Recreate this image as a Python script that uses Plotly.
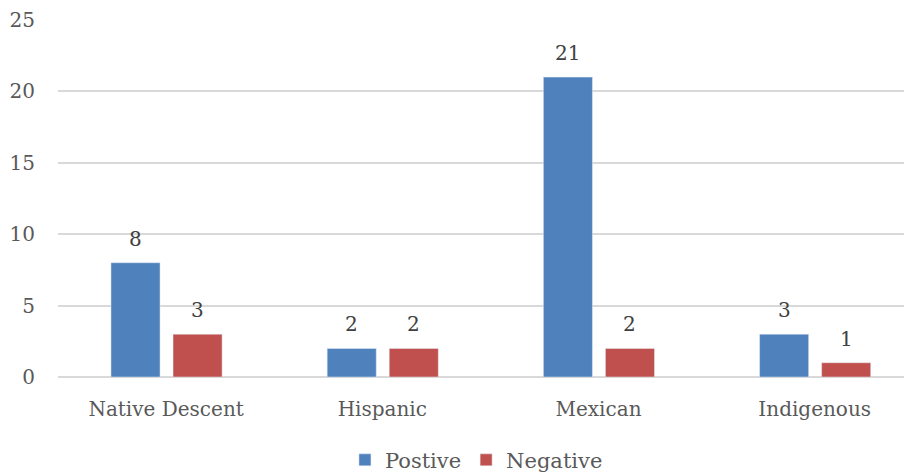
import plotly.graph_objects as go

categories = ["Native Descent", "Hispanic", "Mexican", "Indigenous"]
positive = [8, 2, 21, 3]
negative = [3, 2, 2, 1]
y_ticks = [0, 5, 10, 15, 20, 25]

FONT = "DejaVu Serif"
TXT = "#595959"
LBL = "#404040"
FS = 20

BAR_W = 0.227
OFF_POS = -0.255
OFF_NEG = 0.032
PX_PER_CAT = 854 / 3.95

fig = go.Figure()
fig.add_trace(go.Bar(
    name="Postive", x=categories, y=positive, marker_color="#4F81BD",
    width=BAR_W, offset=OFF_POS,
))
fig.add_trace(go.Bar(
    name="Negative", x=categories, y=negative, marker_color="#C0504D",
    width=BAR_W, offset=OFF_NEG,
))

annotations = []
for vals, off in ((positive, OFF_POS), (negative, OFF_NEG)):
    for c, v in zip(categories, vals):
        annotations.append(dict(
            x=c, y=v, xref="x", yref="y", text=str(v), showarrow=False,
            xanchor="center", yanchor="bottom",
            xshift=(off + BAR_W / 2) * PX_PER_CAT, yshift=10,
            font=dict(family=FONT, size=FS, color=LBL),
        ))

fig.update_layout(
    width=912, height=475,
    margin=dict(l=50, r=8, t=12, b=106, autoexpand=False),
    plot_bgcolor="white", paper_bgcolor="white",
    font=dict(family=FONT, size=FS, color=TXT),
    barmode="group",
    showlegend=True,
    annotations=annotations,
    legend=dict(orientation="h", x=0.49, xanchor="center",
                yref="container", y=0.048, yanchor="middle",
                font=dict(family=FONT, size=21, color=TXT),
                traceorder="normal"),
    xaxis=dict(range=[-0.5, 3.45], showgrid=False, showline=False, ticks="",
               automargin=False, ticklabelstandoff=18,
               tickfont=dict(family=FONT, size=FS, color=TXT)),
    yaxis=dict(range=[0, 25], tickvals=y_ticks, showgrid=True, gridcolor="#D9D9D9",
               gridwidth=1.5, zeroline=True, zerolinecolor="#D9D9D9", zerolinewidth=1.5,
               showline=False, ticks="", ticklabelstandoff=22, automargin=False,
               tickfont=dict(family=FONT, size=FS, color=TXT)),
)

fig.write_html("out.html")
